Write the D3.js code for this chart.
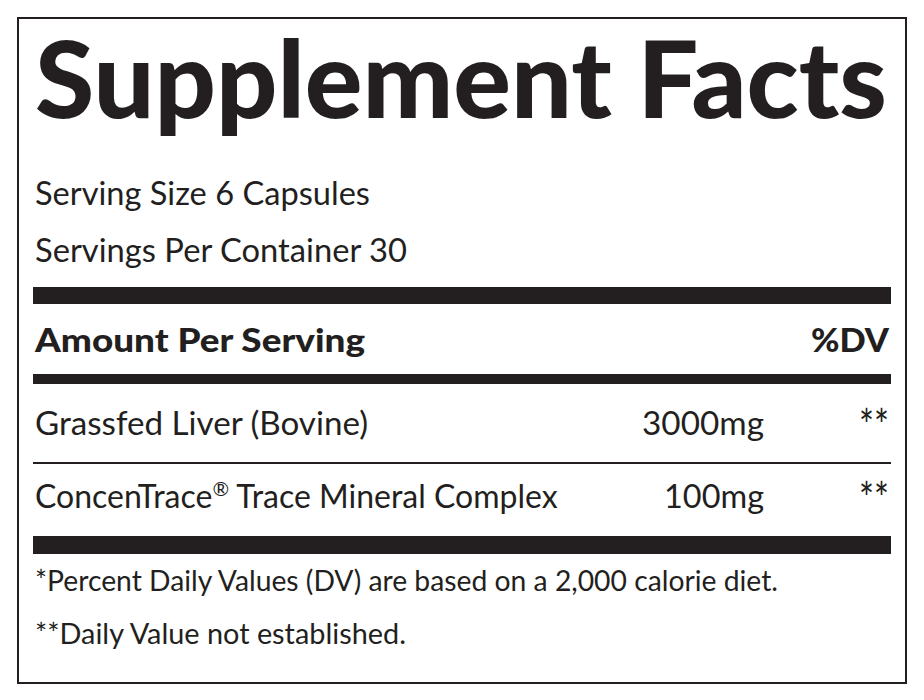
<!DOCTYPE html><html><head><meta charset="utf-8">
<script src="https://cdn.jsdelivr.net/npm/d3@7"></script>
<style>body{margin:0;background:#fff}text{font-family:Lato,"Open Sans",sans-serif;fill:#231f20}</style></head><body>
<script>
const title = "Supplement Facts";
const servingLines = ["Serving Size 6 Capsules", "Servings Per Container 30"];
const ingredients = ["Grassfed Liver (Bovine)", "ConcenTrace® Trace Mineral Complex"];
const amounts = ["3000mg", "100mg"];
const dvs = ["**", "**"];
const footnotes = ["*Percent Daily Values (DV) are based on a 2,000 calorie diet.", "**Daily Value not established."];

const svg = d3.select("body").append("svg").attr("width",924).attr("height",700);
svg.append("rect").attr("x",18).attr("y",18).attr("width",888).attr("height",665).attr("fill","none").attr("stroke","#231f20").attr("stroke-width",2);
const t = (x,y,s,size,w,anchor,len) => { const e = svg.append("text").attr("x",x).attr("y",y).attr("font-size",size).attr("font-weight",w||400).attr("text-anchor",anchor||"start"); if(s!==null) e.text(s); if(len) e.attr("textLength",len).attr("lengthAdjust","spacingAndGlyphs"); return e; };
t(35,118,title,106,900,"start",852);
const ys = d3.scalePoint().domain(servingLines).range([205,262]);
servingLines.forEach((s,i)=>t(35,ys(s),s,32,400,"start",i?372:335));
const bar=(y,h)=>svg.append("rect").attr("x",33).attr("y",y).attr("width",858).attr("height",h).attr("fill","#231f20");
bar(287,17);
t(35,352,"Amount Per Serving",32,900,"start",330);
t(889,352,"%DV",32,900,"end",78);
bar(374,10);
const yr = d3.scalePoint().domain(ingredients).range([435,508]);
ingredients.forEach((s,i)=>{
  if (s.includes("®")) {
    const [a,b] = s.split("®");
    const e = t(35,yr(s),null,32,400,"start");
    e.append("tspan").text(a);
    e.append("tspan").attr("font-size",20).attr("dy",-12).text("®");
    e.append("tspan").attr("dy",12).text(b);
  } else t(35,yr(s),s,32,400,"start",333);
  t(764,yr(s),amounts[i],32,400,"end",i?100:122);
  t(889,yr(s)+6,dvs[i],44,400,"end",30);
});
svg.append("rect").attr("x",33).attr("y",462).attr("width",858).attr("height",2).attr("fill","#231f20");
bar(536,18);
const yf = d3.scalePoint().domain(footnotes).range([591,644]);
footnotes.forEach((s,i)=>t(35,yf(s),s,29,400,"start",i?371:743));
</script></body></html>
